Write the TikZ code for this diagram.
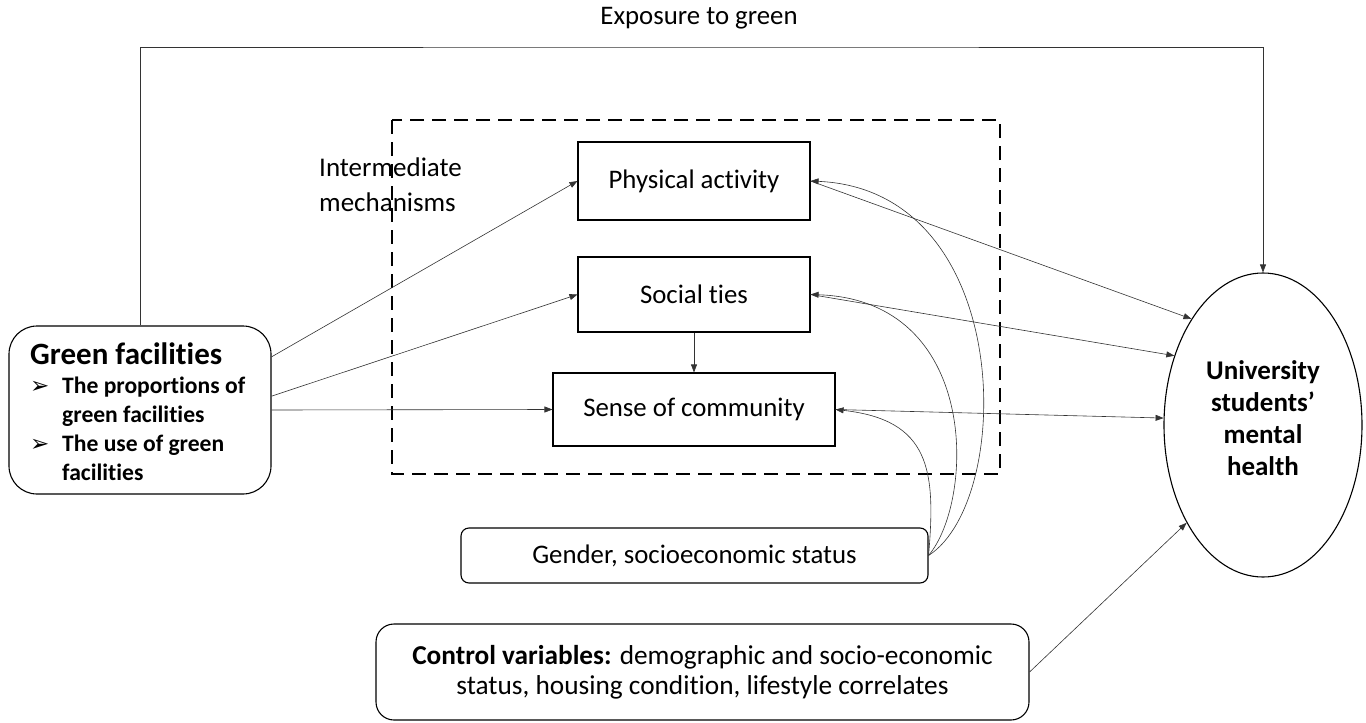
\documentclass[tikz,border=0pt]{standalone}
\usepackage{fontspec}
\setmainfont[Ligatures=NoCommon]{Carlito}
\newfontfamily\symfont{DejaVu Sans}
\usetikzlibrary{shapes.geometric,arrows.meta}

\begin{document}
\begin{tikzpicture}[x=1pt,y={(0pt,-1pt)},
  txt/.style={font=\fontsize{26.8}{30}\selectfont},
  box/.style={draw,line width=1.1pt,inner sep=0pt,txt},
  link/.style={draw=black!80,line width=0.6pt,-{Triangle[length=8pt,width=6pt]}},
]
\useasboundingbox (0,0) rectangle (1366,723);

% intermediate mechanisms frame
\draw[line width=2.8pt,dash pattern=on 14pt off 8pt] (392,120) rectangle (1000,474);
\node[anchor=north west,align=left,inner sep=0pt,font=\fontsize{27}{35}\selectfont] (im) at (319,158)
  {Intermediate\\mechanisms};

% boxes
\node[box,minimum width=232pt,minimum height=78pt] (pa) at (694,181) {Physical activity};
\node[box,minimum width=232pt,minimum height=75pt] (st) at (694,294.5) {Social ties};
\node[box,minimum width=282pt,minimum height=73pt] (sc) at (694,409.5) {Sense of community};
\node[box,rounded corners=8pt,minimum width=467pt,minimum height=55pt] (gen) at (694.5,555.5)
  {Gender, socioeconomic status};
\node[box,rounded corners=18pt,minimum width=653pt,minimum height=96pt,align=center,
  font=\fontsize{27.3}{30}\selectfont] (ctl) at (702.5,672)
  {\textbf{Control variables:} demographic and socio-economic\\status, housing condition, lifestyle correlates};

% green facilities
\node[box,rounded corners=28pt,minimum width=262pt,minimum height=168pt] (gf) at (140,410) {};
\node[anchor=north west,inner sep=0pt,align=left,font=\bfseries\fontsize{23.6}{28.8}\selectfont] (gft) at (30,343)
  {{\fontsize{31}{28.8}\selectfont Green facilities}\\
   \makebox[32pt][l]{\symfont\mdseries\fontsize{23}{28.8}\selectfont ➢}The proportions of\\
   \hspace*{32pt}green facilities\\
   \makebox[32pt][l]{\symfont\mdseries\fontsize{23}{28.8}\selectfont ➢}The use of green\\
   \hspace*{32pt}facilities};

% outcome
\node[draw,ellipse,line width=1.1pt,inner sep=0pt,minimum width=198pt,minimum height=304pt,
  align=center,font=\bfseries\fontsize{27}{32}\selectfont] (mh) at (1263,425)
  {University\\students’\\mental\\health\\[-18pt]\mbox{}};

% direct path
\node[txt,inner sep=0pt] (exp) at (699,18) {Exposure to green};
\coordinate (topc) at (700,47);
\draw[link] (gf.north) |- (topc) -| (mh.north);

% paths through mechanisms
\draw[link] (gf.22.8) -- (pa.west);
\draw[link] (gf.6.1) -- (st.west);
\draw[link] (gf.0) -- (sc.west);
\draw[link] (st.south) -- (sc.north);
\draw[link] (pa.east) -- (mh.124);
\draw[link] (st.east) -- (mh.142);
\draw[link] (sc.east) -- (mh.176);
\draw[link] (ctl.east) -- (mh.232);

% moderators
\draw[link] (gen.east) .. controls (1015,500) and (1015,190) .. (pa.east);
\draw[link] (gen.east) .. controls (975,500) and (980,300) .. (st.east);
\draw[link] (gen.east) .. controls (936,470) and (930,420) .. (sc.east);
\end{tikzpicture}
\end{document}
